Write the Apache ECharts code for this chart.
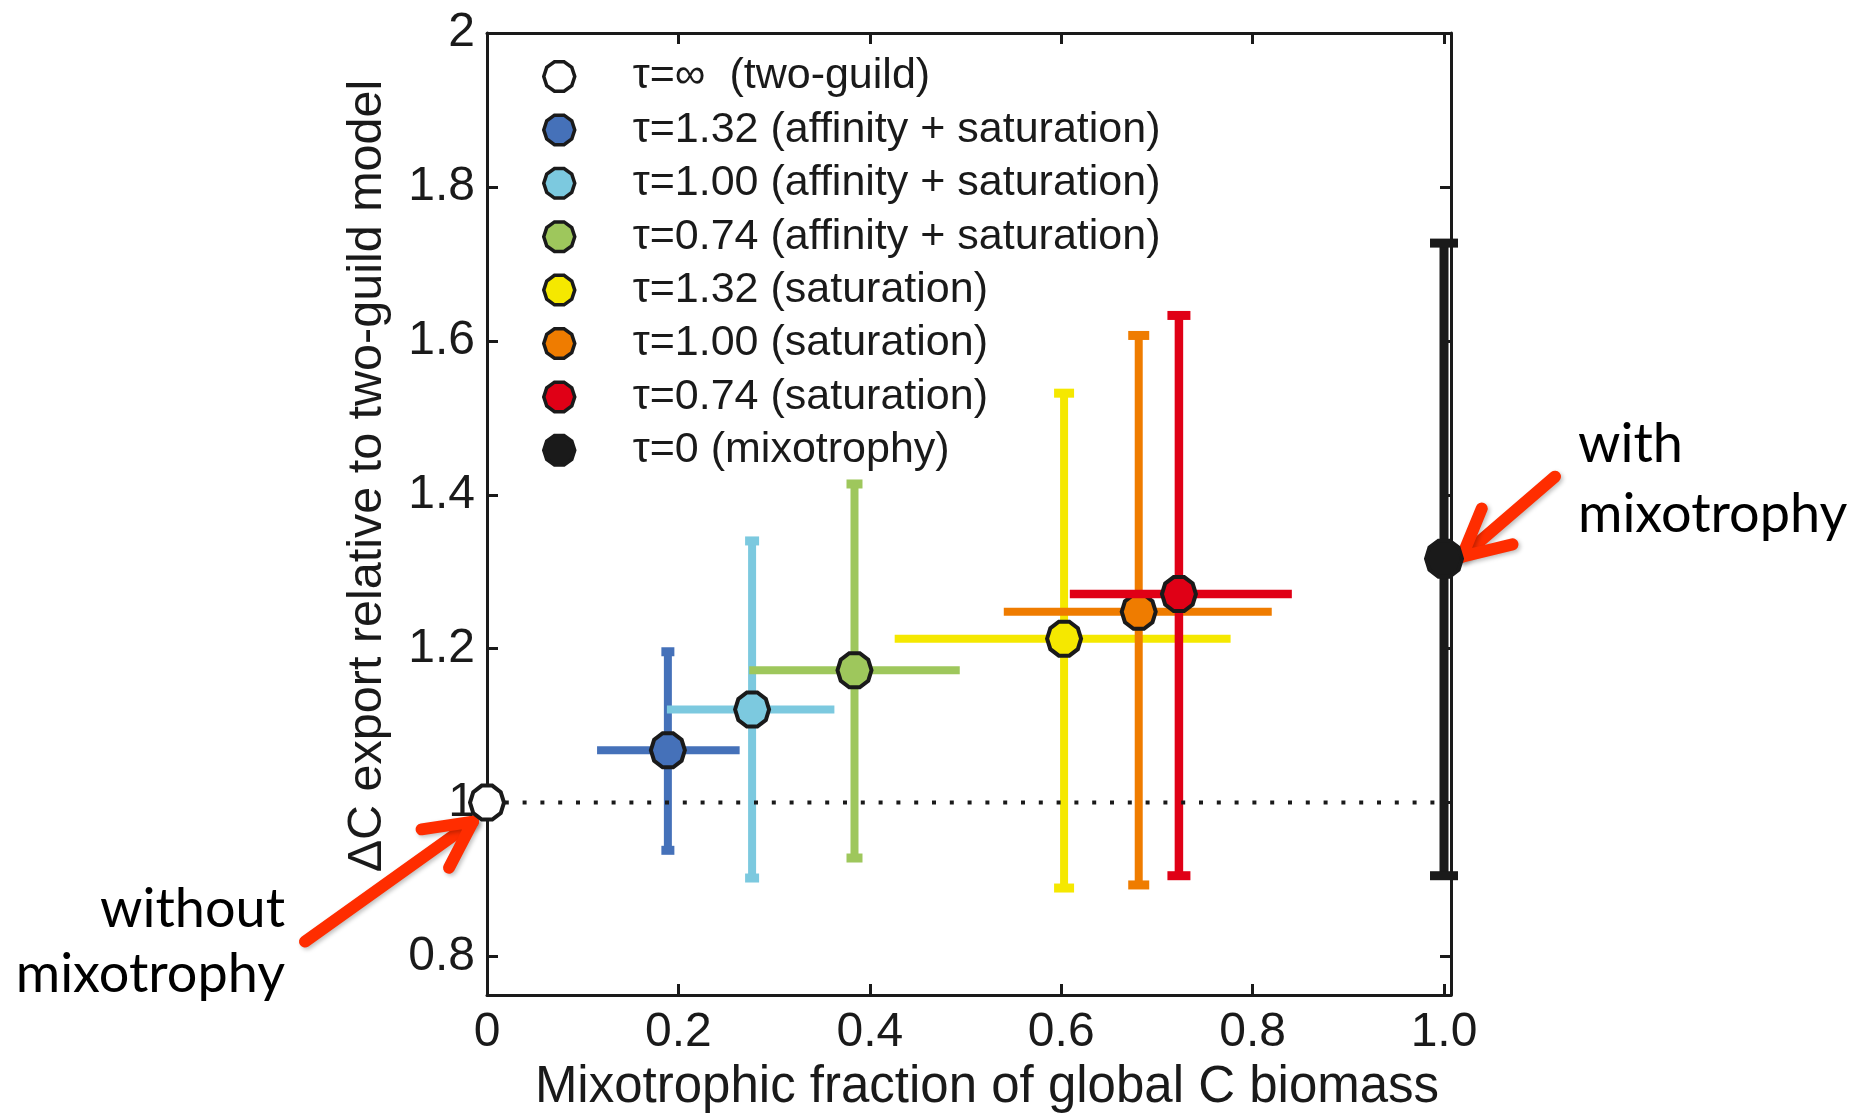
<!DOCTYPE html>
<html>
<head>
<meta charset="utf-8">
<script src="https://cdn.jsdelivr.net/npm/echarts@6/dist/echarts.min.js"></script>
<style>
html,body{margin:0;padding:0;background:#ffffff;}
#chart{width:1862px;height:1118px;}
</style>
</head>
<body>
<div id="chart"></div>
<script>
// ---------------- data ----------------
const seriesNames = [
  'τ=∞  (two-guild)',
  'τ=1.32 (affinity + saturation)',
  'τ=1.00 (affinity + saturation)',
  'τ=0.74 (affinity + saturation)',
  'τ=1.32 (saturation)',
  'τ=1.00 (saturation)',
  'τ=0.74 (saturation)',
  'τ=0 (mixotrophy)'
];
const xValues = [0, 0.189, 0.277, 0.384, 0.603, 0.681, 0.723, 1.0];
const yValues = [1.0, 1.068, 1.121, 1.172, 1.213, 1.248, 1.271, 1.317];
const xLow  = [null, 0.115, 0.188, 0.274, 0.426, 0.540, 0.609, null];
const xHigh = [null, 0.264, 0.363, 0.494, 0.777, 0.820, 0.841, null];
const yLow  = [null, 0.938, 0.902, 0.928, 0.889, 0.893, 0.905, 0.905];
const yHigh = [null, 1.196, 1.340, 1.414, 1.532, 1.607, 1.633, 1.727];

const refLineX = [0, 1];
const refLineY = [1, 1];

const xTickValues = [0, 0.2, 0.4, 0.6, 0.8, 1.0];
const xTickLabels = ['0', '0.2', '0.4', '0.6', '0.8', '1.0'];
const yTickValues = [0.8, 1, 1.2, 1.4, 1.6, 1.8, 2];
const yTickLabels = ['0.8', '1', '1.2', '1.4', '1.6', '1.8', '2'];

const xAxisTitle = 'Mixotrophic fraction of global C biomass';
const yAxisTitle = 'ΔC export relative to two-guild model';
const noteWith = ['with', 'mixotrophy'];
const noteWithout = ['without', 'mixotrophy'];

// ---------------- styles ----------------
const fillColors = ['#ffffff', '#4571b9', '#7cc9df', '#9ec75c', '#f5e800', '#ef7c00', '#e00016', '#1a1a1a'];
const capWidths = [0, 13, 14, 16, 20, 21, 23, 28];
const barWidths = [0, 8, 8, 8, 8, 8, 8.5, 9];
const INK = '#1a1a1a';
const ARROW = '#ff2d00';
const FONT = 'Liberation Sans';

// decagon-like marker (low-poly circle)
const markerPath = (function () {
  const pts = [];
  for (let k = 0; k < 10; k++) {
    const a = k * Math.PI * 2 / 10;
    pts.push((Math.cos(a)).toFixed(4) + ',' + (Math.sin(a)).toFixed(4));
  }
  return 'path://M' + pts.join(' L') + ' Z';
})();

function labelFor(values, labels) {
  return function (v) {
    const i = values.findIndex(t => Math.abs(t - v) < 1e-9);
    return i >= 0 ? labels[i] : '';
  };
}

function makeErrRender(i) {
  return function (params, api) {
    const x = api.value(0), y = api.value(1);
    const xl = api.value(2), xh = api.value(3), yl = api.value(4), yh = api.value(5);
    const color = fillColors[i];
    const lw = barWidths[i];
    const capW = capWidths[i], capH = 9;
    const children = [];
    if (!isNaN(xl) && !isNaN(xh)) {
      const a = api.coord([xl, y]), b = api.coord([xh, y]);
      children.push({type: 'line', shape: {x1: a[0], y1: a[1], x2: b[0], y2: b[1]},
        style: {stroke: color, lineWidth: lw, lineCap: 'butt'}});
    }
    if (!isNaN(yl) && !isNaN(yh)) {
      const a = api.coord([x, yl]), b = api.coord([x, yh]);
      children.push({type: 'line', shape: {x1: a[0], y1: a[1], x2: b[0], y2: b[1]},
        style: {stroke: color, lineWidth: lw, lineCap: 'butt'}});
      [a, b].forEach(p => children.push({type: 'rect',
        shape: {x: p[0] - capW / 2, y: p[1] - capH / 2, width: capW, height: capH},
        style: {fill: color}}));
    }
    return {type: 'group', children};
  };
}

const series = [];
seriesNames.forEach((name, i) => {
  const hasErr = xLow[i] != null || yLow[i] != null;
  const isBlack = i === seriesNames.length - 1;
  const baseZ = isBlack ? 22 : 2 + 2 * i;
  if (hasErr) {
    series.push({
      type: 'custom',
      name: name + ' (error)',
      silent: true,
      clip: false,
      z: baseZ,
      renderItem: makeErrRender(i),
      encode: {x: 0, y: 1},
      data: [[xValues[i], yValues[i],
        xLow[i] == null ? NaN : xLow[i], xHigh[i] == null ? NaN : xHigh[i],
        yLow[i] == null ? NaN : yLow[i], yHigh[i] == null ? NaN : yHigh[i]]]
    });
  }
  series.push({
    type: 'scatter',
    name: name,
    z: i === 0 ? 21 : baseZ + 1,
    symbol: markerPath,
    symbolSize: isBlack ? 36 : 34,
    clip: false,
    silent: true,
    itemStyle: {color: fillColors[i], borderColor: INK, borderWidth: 4, opacity: 1},
    data: [[xValues[i], yValues[i]]]
  });
});

series.push({
  type: 'line',
  name: 'reference',
  z: 20,
  silent: true,
  symbol: 'none',
  lineStyle: {color: INK, width: 4, type: [4, 13.8], cap: 'butt'},
  data: refLineX.map((x, k) => [x, refLineY[k]])
});

const axisLineStyle = {show: true, onZero: false, lineStyle: {color: INK, width: 3}};
const tickStyle = {show: true, inside: true, length: 11, lineStyle: {color: INK, width: 3}};

const option = {
  animation: false,
  backgroundColor: '#ffffff',
  textStyle: {fontFamily: FONT},
  grid: {left: 487, right: 411, top: 33, bottom: 123, containLabel: false},
  legend: {
    orient: 'vertical',
    left: 537,
    top: 50,
    itemWidth: 31,
    itemHeight: 31,
    itemGap: 10.4,
    selectedMode: false,
    data: seriesNames.slice(),
    itemStyle: {borderWidth: 3.5},
    textStyle: {fontFamily: FONT, fontSize: 43, color: INK, padding: [0, 0, 0, 53]}
  },
  xAxis: [
    {
      type: 'value', position: 'bottom', min: 0, max: 1.0073,
      splitLine: {show: false},
      axisLine: axisLineStyle,
      axisTick: Object.assign({customValues: xTickValues}, tickStyle),
      axisLabel: {customValues: xTickValues, formatter: labelFor(xTickValues, xTickLabels),
        fontFamily: FONT, fontSize: 48, color: INK, margin: 14},
      name: xAxisTitle, nameLocation: 'middle', nameGap: 67,
      nameTextStyle: {fontFamily: FONT, fontSize: 51, color: INK, padding: [0, 0, 0, 36]}
    },
    {
      type: 'value', position: 'top', min: 0, max: 1.0073,
      splitLine: {show: false},
      axisLine: axisLineStyle,
      axisTick: Object.assign({customValues: xTickValues}, tickStyle),
      axisLabel: {show: false}
    }
  ],
  yAxis: [
    {
      type: 'value', position: 'left', min: 0.75, max: 2,
      splitLine: {show: false},
      axisLine: axisLineStyle,
      axisTick: Object.assign({customValues: yTickValues}, tickStyle),
      axisLabel: {customValues: yTickValues, formatter: labelFor(yTickValues, yTickLabels),
        fontFamily: FONT, fontSize: 48, color: INK, margin: 12},
      name: yAxisTitle, nameLocation: 'middle', nameGap: 95,
      nameTextStyle: {fontFamily: FONT, fontSize: 48.5, color: INK, padding: [0, 0, 0, 76]}
    },
    {
      type: 'value', position: 'right', min: 0.75, max: 2,
      splitLine: {show: false},
      axisLine: axisLineStyle,
      axisTick: Object.assign({customValues: yTickValues}, tickStyle),
      axisLabel: {show: false}
    }
  ],
  series: series
};

const chart = echarts.init(document.getElementById('chart'), null, {renderer: 'canvas'});
chart.setOption(option);

// ---------------- annotations (arrows + notes) ----------------
function arrowGraphic(tip, tail) {
  const dx = tail[0] - tip[0], dy = tail[1] - tip[1];
  const len = Math.hypot(dx, dy);
  const ux = dx / len, uy = dy / len;
  const headLen = 52, ang = 27 * Math.PI / 180;
  const rot = (vx, vy, t) => [vx * Math.cos(t) - vy * Math.sin(t), vx * Math.sin(t) + vy * Math.cos(t)];
  const r1 = rot(ux, uy, ang), r2 = rot(ux, uy, -ang);
  const a1 = [tip[0] + r1[0] * headLen, tip[1] + r1[1] * headLen];
  const a2 = [tip[0] + r2[0] * headLen, tip[1] + r2[1] * headLen];
  const st = {stroke: ARROW, lineWidth: 12, lineCap: 'round', lineJoin: 'round', fill: null,
    shadowColor: 'rgba(0,0,0,0.25)', shadowBlur: 4, shadowOffsetX: 2, shadowOffsetY: 2};
  return {
    type: 'group', z: 100, children: [
      {type: 'polyline', shape: {points: [tail, tip]}, style: st},
      {type: 'polyline', shape: {points: [a1, tip, a2]}, style: st}
    ]
  };
}

const pWhite = chart.convertToPixel({xAxisIndex: 0, yAxisIndex: 0}, [xValues[0], yValues[0]]);
const last = xValues.length - 1;
const pBlack = chart.convertToPixel({xAxisIndex: 0, yAxisIndex: 0}, [xValues[last], yValues[last]]);

const noteStyle = {fontFamily: 'Lato', fontSize: 54, fill: '#000000'};
chart.setOption({
  graphic: [
    arrowGraphic([pWhite[0] - 14, pWhite[1] + 19], [pWhite[0] - 182, pWhite[1] + 139]),
    arrowGraphic([pBlack[0] + 18, pBlack[1] - 2], [pBlack[0] + 111, pBlack[1] - 82]),
    {type: 'text', z: 100, x: 1578, y: 445, style: Object.assign({text: noteWith[0], align: 'left', verticalAlign: 'middle'}, noteStyle)},
    {type: 'text', z: 100, x: 1578, y: 515, style: Object.assign({text: noteWith[1], align: 'left', verticalAlign: 'middle'}, noteStyle)},
    {type: 'text', z: 100, x: 285, y: 910, style: Object.assign({text: noteWithout[0], align: 'right', verticalAlign: 'middle'}, noteStyle)},
    {type: 'text', z: 100, x: 285, y: 975, style: Object.assign({text: noteWithout[1], align: 'right', verticalAlign: 'middle'}, noteStyle)}
  ]
});
</script>
</body>
</html>
